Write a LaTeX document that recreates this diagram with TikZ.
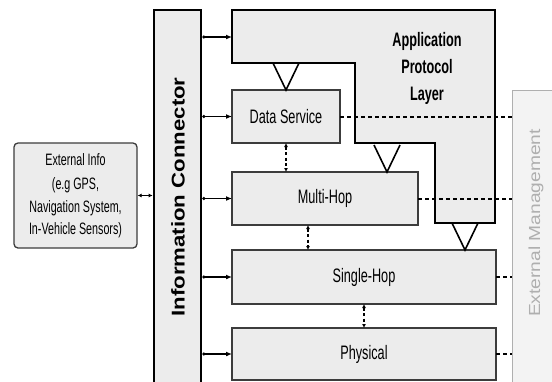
\documentclass[tikz,border=0pt]{standalone}
\usepackage{fontspec}
\setmainfont{Liberation Sans}
\newfontfamily\narrowfont{Liberation Sans}[FakeStretch=0.65]
\newfontfamily\widefont{Liberation Sans}[FakeStretch=1.2]
\usepackage{xcolor}
\definecolor{layergray}{RGB}{236,236,236}
\definecolor{mgmtgray}{RGB}{243,243,243}
\definecolor{mgmtline}{RGB}{175,175,175}
\definecolor{edgegray}{RGB}{60,60,60}
\usetikzlibrary{arrows.meta,positioning,calc}

\newcommand{\ifacetri}[1]{\draw[line width=1.6pt] ($(#1)+(-13,-27)$) -- (#1) -- ($(#1)+(13,-27)$);}

\begin{document}
\begin{tikzpicture}[x=1pt, y=-1pt,
    layerbox/.style={rectangle, inner sep=0pt, outer sep=0pt, minimum height=53pt,
      draw=edgegray, line width=1.3pt, fill=layergray, font=\narrowfont\fontsize{19.5}{22}\selectfont},
    conlink/.style={{Circle[length=3pt]}-{Latex[length=6pt,width=5pt]}, line width=1.4pt},
    vlink/.style={{Latex[length=4pt,width=4pt]}-{Latex[length=4pt,width=4pt]}, line width=1.5pt, dash pattern=on 3pt off 2.5pt},
    mgmtlink/.style={line width=2pt, dash pattern=on 4pt off 3pt}
  ]
    \useasboundingbox (0,0) rectangle (552,381);

    \node[rectangle, rounded corners=4pt, draw=edgegray, line width=1.3pt, fill=layergray,
      minimum width=123pt, minimum height=105pt, inner sep=0pt, align=center,
      font=\narrowfont\fontsize{16.5}{22.5}\selectfont] (ei) at (75.5,195.5)
      {External Info\\[2pt](e.g GPS,\\Navigation System,\\In-Vehicle Sensors)};

    \node[rectangle, draw=black, line width=2.6pt, fill=layergray, inner sep=0pt,
      minimum width=47pt, minimum height=380pt] (ic) at (177.5,200) {};
    \node[rotate=90, font=\widefont\bfseries\fontsize{18.5}{21}\selectfont] (ictxt) at (178,197) {Information Connector};

    \node[rectangle, draw=mgmtline, line width=1pt, fill=mgmtgray, inner sep=0pt,
      minimum width=58pt, minimum height=305pt] (em) at (541,242.5) {};
    \node[rotate=90, text=mgmtline, font=\widefont\fontsize{16}{19}\selectfont] (emtxt) at (536,223) {External Management};

    \draw[line width=2.8pt, fill=layergray] (232,10) -- (495,10) -- (495,223) -- (435,223)
      -- (435,143) -- (355,143) -- (355,63) -- (232,63) -- cycle;
    \node[align=center, font=\narrowfont\bfseries\fontsize{19.5}{27}\selectfont] (apltxt) at (427,68)
      {Application\\Protocol\\Layer};
    \coordinate (apl) at (232,37);

    \node[layerbox, minimum width=108pt] (ds) at (286,116.5) {Data Service};
    \node[layerbox, minimum width=186pt] (mh) at (325,198.5) {Multi-Hop};
    \node[layerbox, minimum width=264pt, minimum height=54pt] (sh) at (364,277) {Single-Hop};
    \node[layerbox, minimum width=264pt, minimum height=52pt] (ph) at (364,354) {Physical};

    \ifacetri{ds.north}
    \ifacetri{$(mh.north west)+(155,0)$}
    \ifacetri{$(sh.north east)+(-31,0)$}

    \draw[{Latex[length=4pt,width=4pt]}-{Latex[length=4pt,width=4pt]}, line width=1.4pt] (ei.east) -- (ic.west |- ei.east);

    \draw[conlink] (ic.east |- apl) -- (apl);
    \draw[conlink] (ic.east |- ds) -- (ds.west);
    \draw[conlink] (ic.east |- mh) -- (mh.west);
    \draw[conlink] (ic.east |- sh) -- (sh.west);
    \draw[conlink] (ic.east |- ph) -- (ph.west);

    \draw[vlink] (ds.south) -- (ds.south |- mh.north);
    \draw[vlink] ([xshift=76pt]mh.south west) -- ([xshift=76pt]mh.south west |- sh.north);
    \draw[vlink] (sh.south) -- (ph.north);

    \draw[mgmtlink] (ds.east) -- (em.west |- ds.east);
    \draw[mgmtlink] (mh.east) -- (em.west |- mh.east);
    \draw[mgmtlink] (sh.east) -- (em.west |- sh.east);
    \draw[mgmtlink] (ph.east) -- (em.west |- ph.east);
  \end{tikzpicture}
\end{document}
